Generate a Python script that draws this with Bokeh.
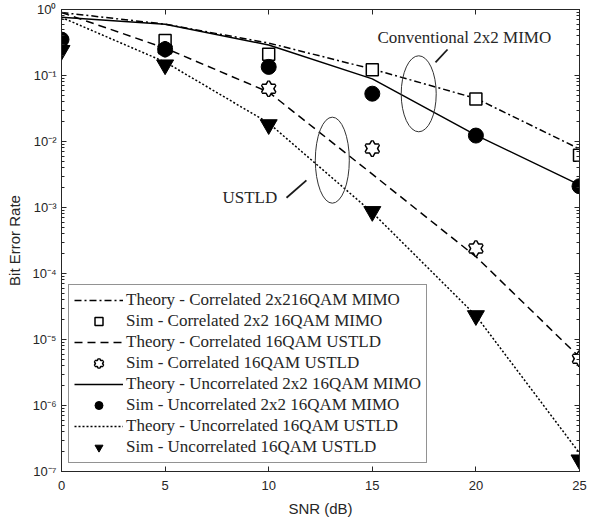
from bokeh.plotting import figure
from bokeh.models import (LogAxis, LinearAxis, Legend, LegendItem, Label,
                          FixedTicker, LogTicker, CustomJSTickFormatter, Range1d)
from bokeh.embed import file_html
from bokeh.resources import INLINE

# ---- data ----
snr = [0, 5, 10, 15, 20, 25]
theory_corr_mimo = [0.90, 0.60, 0.31, 0.125, 0.045, 0.0077]
snr_sim_corr_mimo = [5, 10, 15, 20, 25]
sim_corr_mimo = [0.34, 0.21, 0.122, 0.044, 0.0062]
theory_corr_ustld = [0.90, 0.26, 0.056, 0.0032, 1.8e-4, 5.4e-6]
snr_sim_corr_ustld = [5, 10, 15, 20, 25]
sim_corr_ustld = [0.25, 0.063, 0.0078, 2.4e-4, 5.1e-6]
theory_unc_mimo = [0.76, 0.60, 0.29, 0.089, 0.0125, 0.0022]
sim_unc_mimo = [0.35, 0.25, 0.135, 0.053, 0.0123, 0.0021]
theory_unc_ustld = [0.76, 0.16, 0.019, 8.4e-4, 2.3e-5, 1.9e-7]
sim_unc_ustld = [0.24, 0.145, 0.018, 8.7e-4, 2.3e-5, 1.5e-7]

labels = [
    "Theory - Correlated 2x216QAM MIMO",
    "Sim - Correlated 2x2 16QAM MIMO",
    "Theory - Correlated 16QAM USTLD",
    "Sim - Correlated 16QAM USTLD",
    "Theory - Uncorrelated 2x2 16QAM MIMO",
    "Sim - Uncorrelated 2x2 16QAM MIMO",
    "Theory - Uncorrelated 16QAM USTLD",
    "Sim - Uncorrelated 16QAM USTLD",
]
x_ticks = [0, 5, 10, 15, 20, 25]

AX = "#262626"
SANS = "Liberation Sans"
SERIF = "Liberation Serif"

p = figure(frame_width=518, frame_height=462,
           min_border_left=61, min_border_right=10, min_border_top=9, min_border_bottom=51,
           x_range=Range1d(0, 25), y_range=Range1d(1e-7, 1), y_axis_type="log",
           output_backend="svg", toolbar_location=None,
           background_fill_color="white", border_fill_color="white")
p.grid.visible = False
p.outline_line_color = AX
p.outline_line_width = 1

sup = CustomJSTickFormatter(code="""
const m = {"0":"\u2070","1":"\u00b9","2":"\u00b2","3":"\u00b3","4":"\u2074","5":"\u2075",
           "6":"\u2076","7":"\u2077","8":"\u2078","9":"\u2079","-":"\u207b"};
const e = Math.round(Math.log10(tick));
return "10" + String(e).split("").map(c => m[c]).join("");
""")
blank = CustomJSTickFormatter(code="return '';")

def style_axis(ax, labels_on=True):
    ax.axis_line_color = AX
    ax.major_tick_line_color = AX
    ax.minor_tick_line_color = AX
    ax.major_tick_in = 5
    ax.major_tick_out = 0
    ax.minor_tick_in = 3
    ax.minor_tick_out = 0
    ax.major_label_text_font = SANS
    ax.major_label_text_color = AX
    ax.major_label_text_font_size = "13px" if labels_on else "1px"
    ax.axis_label_text_font = SANS
    ax.axis_label_text_font_size = "15px"
    ax.axis_label_text_font_style = "normal"
    ax.axis_label_text_color = AX

xa = p.xaxis[0]
xa.ticker = FixedTicker(ticks=x_ticks)
xa.axis_label = "SNR (dB)"
style_axis(xa)
xa.major_label_standoff = 9
xa.axis_label_standoff = 7

ya = p.yaxis[0]
ya.ticker = LogTicker(num_minor_ticks=10)
ya.formatter = sup
ya.axis_label = "Bit Error Rate"
style_axis(ya)
ya.major_label_standoff = 5
ya.axis_label_standoff = 6

top = LinearAxis(ticker=FixedTicker(ticks=x_ticks), formatter=blank)
style_axis(top, False)
top.major_label_standoff = 0
top.minor_tick_in = 0
p.add_layout(top, "above")

right = LogAxis(ticker=LogTicker(num_minor_ticks=10), formatter=blank)
style_axis(right, False)
right.major_label_standoff = 0
p.add_layout(right, "right")

# ---- lines ----
r1 = p.line(snr, theory_corr_mimo, line_color="black", line_width=1.5, line_dash="7 3 2 3")
r3 = p.line(snr, theory_corr_ustld, line_color="black", line_width=1.5, line_dash="8 5")
r5 = p.line(snr, theory_unc_mimo, line_color="black", line_width=1.5)
r7 = p.line(snr, theory_unc_ustld, line_color="black", line_width=1.5, line_dash="2 2")

# ---- markers ----
r2 = p.scatter(snr_sim_corr_mimo, sim_corr_mimo, marker="square", size=12,
               fill_color="white", line_color="black", line_width=1.5)
# hexagram built from two triangles
h1 = p.scatter(snr_sim_corr_ustld, sim_corr_ustld, marker="triangle", size=13,
               fill_color="white", line_color="black", line_width=3)
h2 = p.scatter(snr_sim_corr_ustld, sim_corr_ustld, marker="inverted_triangle", size=13,
               fill_color="white", line_color="black", line_width=3)
h3 = p.scatter(snr_sim_corr_ustld, sim_corr_ustld, marker="triangle", size=13,
               fill_color="white", line_alpha=0)
h4 = p.scatter(snr_sim_corr_ustld, sim_corr_ustld, marker="inverted_triangle", size=13,
               fill_color="white", line_alpha=0)
r6 = p.scatter(snr, sim_unc_mimo, marker="circle", size=15,
               fill_color="black", line_color="black")
r8 = p.scatter(snr, sim_unc_ustld, marker="inverted_triangle", size=17,
               fill_color="black", line_color="black")

# ---- annotations ----
p.ellipse(x=[17.24], y=[10 ** -1.277], width=[35], height=[76],
          width_units="screen", height_units="screen",
          fill_color=None, line_color="#333333", line_width=1)
p.ellipse(x=[13.07], y=[10 ** -2.283], width=[34], height=[86],
          width_units="screen", height_units="screen",
          fill_color=None, line_color="#333333", line_width=1)
p.line([18.05, 18.63], [10 ** -0.80, 10 ** -0.606], line_color="#1a1a1a", line_width=1.8)
p.line([10.86, 11.82], [10 ** -2.853, 10 ** -2.59], line_color="#1a1a1a", line_width=1.8)
p.add_layout(Label(x=15.25, y=10 ** -0.429, text="Conventional 2x2 MIMO",
                   text_font=SERIF, text_font_size="17px", text_color="#262626",
                   text_baseline="middle", text_align="left"))
p.add_layout(Label(x=7.77, y=10 ** -2.856, text="USTLD",
                   text_font=SERIF, text_font_size="17px", text_color="#262626",
                   text_baseline="middle", text_align="left"))

# ---- legend ----
items = [
    LegendItem(label=labels[0], renderers=[r1]),
    LegendItem(label=labels[1], renderers=[r2]),
    LegendItem(label=labels[2], renderers=[r3]),
    LegendItem(label=labels[3], renderers=[h1, h2, h3, h4]),
    LegendItem(label=labels[4], renderers=[r5]),
    LegendItem(label=labels[5], renderers=[r6]),
    LegendItem(label=labels[6], renderers=[r7]),
    LegendItem(label=labels[7], renderers=[r8]),
]
legend = Legend(items=items, location=(7, 8), orientation="vertical",
                glyph_width=49, glyph_height=20, label_height=20, spacing=1,
                padding=5, margin=0, label_standoff=3,
                label_text_font=SERIF, label_text_font_size="17px",
                label_text_color="#262626",
                border_line_color=AX, border_line_width=1,
                background_fill_color="white", background_fill_alpha=1)
p.add_layout(legend)

open("out.html", "w").write(file_html(p, INLINE))
